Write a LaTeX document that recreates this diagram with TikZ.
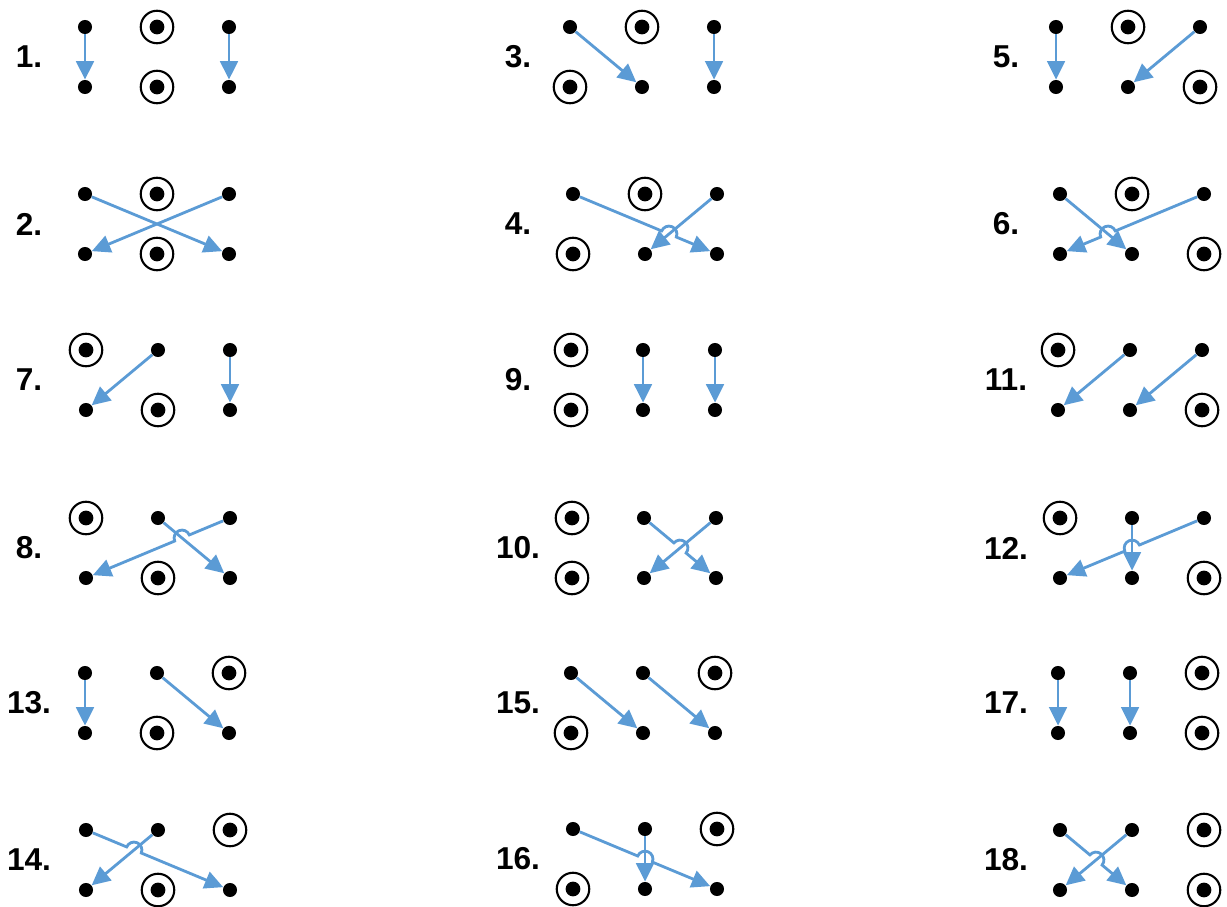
\documentclass[tikz,border=0pt]{standalone}
\usepackage{fontspec}
\setsansfont{Liberation Sans}
\usetikzlibrary{arrows.meta,calc}
\definecolor{gazul}{HTML}{5B9BD5}
\tikzset{
  gdot/.style={circle, fill=black, inner sep=0pt, minimum size=8pt},
  gring/.style={circle, draw=black, line width=1.2pt, fill=white, inner sep=0pt, minimum size=18.5pt,
                path picture={\fill[black] (path picture bounding box.center) circle (4.2pt);}},
  gmove/.style={-{Triangle[length=10.5pt, width=10pt]}, line width=1.6pt, draw=gazul},
  gnum/.style={font=\sffamily\bfseries\fontsize{18}{21}\selectfont, inner sep=0pt},
}
% arrow #1 -> #2 that hops over the line #3 -- #4
\newcommand\gjump[4]{%
  \draw[gmove] (#1) -- ($(intersection of #1--#2 and #3--#4)!4.5pt!(#1)$)
    let \p1=($(#2)-(#1)$) in
    arc[start angle={atan2(\y1,\x1)+180}, delta angle={ifthenelse(\x1>0,-180,180)}, radius=4.5pt]
    -- (#2);}

\begin{document}
\begin{tikzpicture}
        \useasboundingbox (0,0) rectangle (24.54,-18.14);
        % ---------------- grades ----------------
        \foreach \n/\lx/\x/\y/\a/\b/\c/\d/\e/\f in {
            1/0.58/1.70/-0.54/gdot/gring/gdot/gdot/gring/gdot,
            2/0.58/1.70/-3.88/gdot/gring/gdot/gdot/gring/gdot,
            7/0.58/1.72/-7.00/gring/gdot/gdot/gdot/gring/gdot,
            8/0.58/1.72/-10.36/gring/gdot/gdot/gdot/gring/gdot,
            13/0.58/1.70/-13.46/gdot/gdot/gring/gdot/gring/gdot,
            14/0.58/1.72/-16.60/gdot/gdot/gring/gdot/gring/gdot,
            3/10.36/11.40/-0.54/gdot/gring/gdot/gring/gdot/gdot,
            4/10.36/11.46/-3.88/gdot/gring/gdot/gring/gdot/gdot,
            9/10.36/11.42/-7.00/gring/gdot/gdot/gring/gdot/gdot,
            10/10.36/11.44/-10.36/gring/gdot/gdot/gring/gdot/gdot,
            15/10.36/11.42/-13.46/gdot/gdot/gring/gring/gdot/gdot,
            16/10.36/11.46/-16.58/gdot/gdot/gring/gring/gdot/gdot,
            5/20.12/21.12/-0.54/gdot/gring/gdot/gdot/gdot/gring,
            6/20.12/21.20/-3.88/gdot/gring/gdot/gdot/gdot/gring,
            11/20.12/21.16/-7.00/gring/gdot/gdot/gdot/gdot/gring,
            12/20.12/21.20/-10.36/gring/gdot/gdot/gdot/gdot/gring,
            17/20.12/21.16/-13.46/gdot/gdot/gring/gdot/gdot/gring,
            18/20.12/21.20/-16.60/gdot/gdot/gring/gdot/gdot/gring} {
          \node[gnum] (n\n) at (\lx,\y-0.6) {\n.};
          \node[\a] (tl\n) at (\x,\y) {};
          \node[\b] (tm\n) at (\x+1.44,\y) {};
          \node[\c] (tr\n) at (\x+2.88,\y) {};
          \node[\d] (bl\n) at (\x,\y-1.2) {};
          \node[\e] (bm\n) at (\x+1.44,\y-1.2) {};
          \node[\f] (br\n) at (\x+2.88,\y-1.2) {};
        }
        % ---------------- setas ----------------
        \draw[gmove] (tl1) -- (bl1);
        \draw[gmove] (tr1) -- (br1);
        \draw[gmove] (tl2) -- (br2);
        \draw[gmove] (tr2) -- (bl2);
        \draw[gmove] (tl3) -- (bm3);
        \draw[gmove] (tr3) -- (br3);
        \gjump{tl4}{br4}{tr4}{bm4}
        \draw[gmove] (tr4) -- (bm4);
        \draw[gmove] (tl5) -- (bl5);
        \draw[gmove] (tr5) -- (bm5);
        \draw[gmove] (tl6) -- (bm6);
        \gjump{tr6}{bl6}{tl6}{bm6}
        \draw[gmove] (tm7) -- (bl7);
        \draw[gmove] (tr7) -- (br7);
        \draw[gmove] (tm8) -- (br8);
        \gjump{tr8}{bl8}{tm8}{br8}
        \draw[gmove] (tm9) -- (bm9);
        \draw[gmove] (tr9) -- (br9);
        \gjump{tm10}{br10}{tr10}{bm10}
        \draw[gmove] (tr10) -- (bm10);
        \draw[gmove] (tm11) -- (bl11);
        \draw[gmove] (tr11) -- (bm11);
        \draw[gmove] (tm12) -- (bm12);
        \gjump{tr12}{bl12}{tm12}{bm12}
        \draw[gmove] (tl13) -- (bl13);
        \draw[gmove] (tm13) -- (br13);
        \gjump{tl14}{br14}{tm14}{bl14}
        \draw[gmove] (tm14) -- (bl14);
        \draw[gmove] (tl15) -- (bm15);
        \draw[gmove] (tm15) -- (br15);
        \gjump{tl16}{br16}{tm16}{bm16}
        \draw[gmove] (tm16) -- (bm16);
        \draw[gmove] (tl17) -- (bl17);
        \draw[gmove] (tm17) -- (bm17);
        \gjump{tl18}{bm18}{tm18}{bl18}
        \draw[gmove] (tm18) -- (bl18);
\end{tikzpicture}
\end{document}
